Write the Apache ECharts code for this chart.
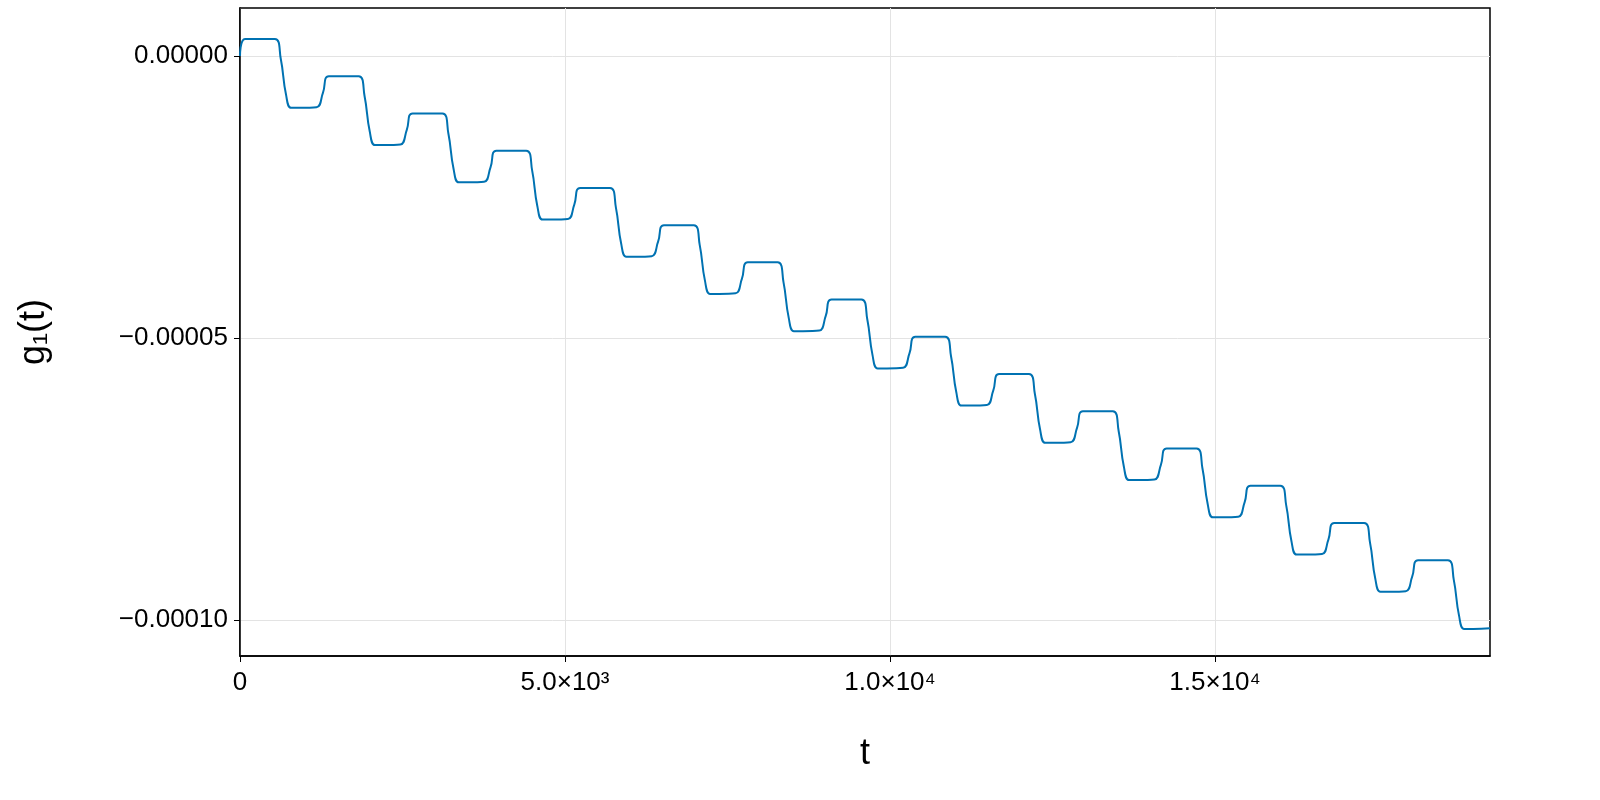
<!DOCTYPE html>
<html><head><meta charset="utf-8">
<script src="https://cdn.jsdelivr.net/npm/echarts@6/dist/echarts.min.js"></script>
<style>html,body{margin:0;padding:0;background:#fff}#c{width:1600px;height:800px}</style>
</head><body><div id="c"></div>
<script>
// time values
const tValues = [0,
 77,537,627,707,787,927,1177,1277,
 1366,1826,1916,1996,2076,2216,2466,2566,
 2655,3115,3205,3285,3365,3505,3755,3855,
 3944,4404,4494,4574,4654,4794,5044,5144,
 5233,5693,5783,5863,5943,6083,6333,6433,
 6522,6982,7072,7152,7232,7372,7622,7722,
 7811,8271,8361,8441,8521,8661,8911,9011,
 9100,9560,9650,9730,9810,9950,10200,10300,
 10389,10849,10939,11019,11099,11239,11489,11589,
 11678,12138,12228,12308,12388,12528,12778,12878,
 12967,13427,13517,13597,13677,13817,14067,14167,
 14256,14716,14806,14886,14966,15106,15356,15456,
 15545,16005,16095,16175,16255,16395,16645,16745,
 16834,17294,17384,17464,17544,17684,17934,18034,
 18123,18583,18673,18753,18833,18973,19230];
// g1(t) values in units of 1e-6
const gMicro = [0,
 3.0,3.0,-0.5,-6.8,-9.2,-9.2,-9.1,-6.5,
 -3.6,-3.6,-7.1,-13.4,-15.8,-15.8,-15.7,-13.1,
 -10.2,-10.2,-13.7,-20.0,-22.4,-22.4,-22.3,-19.7,
 -16.8,-16.8,-20.3,-26.6,-29.0,-29.0,-28.9,-26.3,
 -23.4,-23.4,-26.9,-33.2,-35.6,-35.6,-35.5,-32.9,
 -30.0,-30.0,-33.5,-39.8,-42.2,-42.2,-42.1,-39.5,
 -36.6,-36.6,-40.1,-46.4,-48.8,-48.8,-48.7,-46.1,
 -43.2,-43.2,-46.7,-53.0,-55.4,-55.4,-55.3,-52.7,
 -49.8,-49.8,-53.3,-59.6,-62.0,-62.0,-61.9,-59.3,
 -56.4,-56.4,-59.9,-66.2,-68.6,-68.6,-68.5,-65.9,
 -63.0,-63.0,-66.5,-72.8,-75.2,-75.2,-75.1,-72.5,
 -69.6,-69.6,-73.1,-79.4,-81.8,-81.8,-81.7,-79.1,
 -76.2,-76.2,-79.7,-86.0,-88.4,-88.4,-88.3,-85.7,
 -82.8,-82.8,-86.3,-92.6,-95.0,-95.0,-94.9,-92.3,
 -89.4,-89.4,-92.9,-99.2,-101.6,-101.6,-101.5];
const xTicks = [0, 5000, 10000, 15000];
const xTickLabels = ['0', '5.0×10³', '1.0×10⁴', '1.5×10⁴'];
const yTicks = [0, -0.00005, -0.0001];
const yTickLabels = ['0.00000', '−0.00005', '−0.00010'];

const data = tValues.map((t, i) => [t, gMicro[i] * 1e-6]);
const font = 'Liberation Sans, Arial, sans-serif';
const chart = echarts.init(document.getElementById('c'));
chart.setOption({
  animation: false,
  grid: {left: 240, right: 110, top: 8, bottom: 144, show: true, borderColor: '#000', borderWidth: 1.5},
  xAxis: {
    type: 'value', min: 0, max: 19230,
    name: 't', nameLocation: 'middle', nameGap: 80,
    nameTextStyle: {fontSize: 36, color: '#000', fontFamily: font},
    axisLine: {show: true, onZero: false, lineStyle: {color: '#000', width: 1.5}},
    axisTick: {show: true, customValues: xTicks, length: 6, inside: false, lineStyle: {color: '#000'}},
    axisLabel: {customValues: xTicks, fontSize: 26, color: '#000', fontFamily: font, margin: 14,
      formatter: v => xTickLabels[xTicks.indexOf(v)]},
    splitLine: {show: true, lineStyle: {color: '#e3e3e3', width: 1}}
  },
  yAxis: {
    type: 'value', min: -0.0001064, max: 0.0000085,
    name: 'g₁(t)', nameLocation: 'middle', nameGap: 188, nameRotate: 90,
    nameTextStyle: {fontSize: 36, color: '#000', fontFamily: font},
    axisLine: {show: true, onZero: false, lineStyle: {color: '#000', width: 1.5}},
    axisTick: {show: true, customValues: yTicks, length: 6, lineStyle: {color: '#000'}},
    axisLabel: {customValues: yTicks, fontSize: 26, color: '#000', fontFamily: font, margin: 12,
      formatter: v => yTickLabels[yTicks.findIndex(y => Math.abs(y - v) < 1e-9)]},
    splitLine: {show: true, lineStyle: {color: '#e3e3e3', width: 1}}
  },
  series: [{
    type: 'line', data: data, showSymbol: false, smooth: 0.45,
    lineStyle: {color: '#0072b2', width: 2}
  }]
});
</script></body></html>
